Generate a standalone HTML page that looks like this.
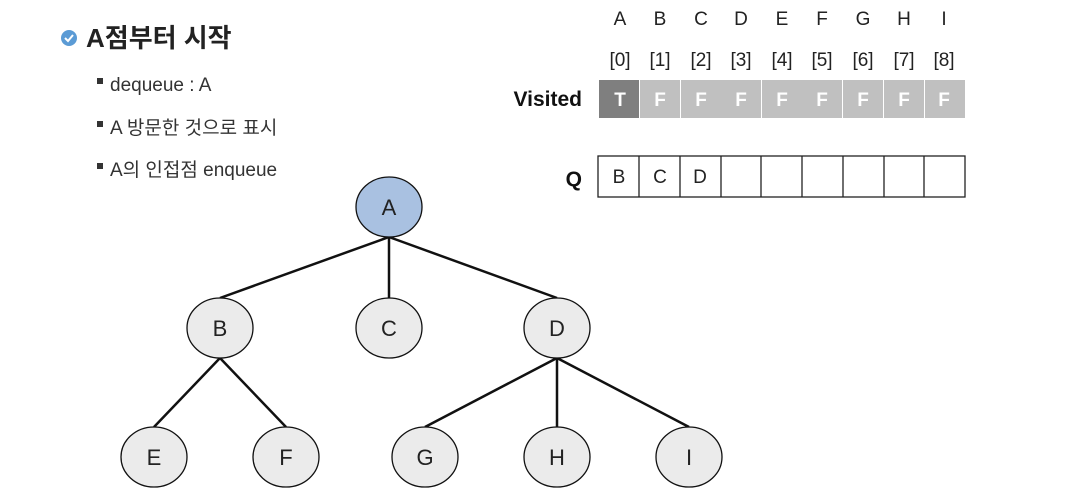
<!DOCTYPE html>
<html><head><meta charset="utf-8"><style>
body{margin:0;width:1070px;height:498px;background:#fff;overflow:hidden}
svg{display:block}
text{font-family:"Liberation Sans","Noto Sans CJK KR",sans-serif}
</style></head><body>
<svg width="1070" height="498" viewBox="0 0 1070 498">
<circle cx="69" cy="38" r="8" fill="#5b9bd5"/>
<path d="M65 38 l3 3 l5 -6" stroke="#fff" stroke-width="2" fill="none"/>
<text x="86" y="47" font-size="26" font-weight="bold" fill="#222">A점부터 시작</text>
<g font-size="19" fill="#333">
<rect x="97" y="78" width="6" height="6" fill="#333"/><text x="110" y="91">dequeue : A</text>
<rect x="97" y="121" width="6" height="6" fill="#333"/><text x="110" y="134">A 방문한 것으로 표시</text>
<rect x="97" y="163" width="6" height="6" fill="#333"/><text x="110" y="176">A의 인접점 enqueue</text>
</g>
<g font-size="19" fill="#222" text-anchor="middle">
<text x="620" y="25">A</text><text x="660" y="25">B</text><text x="701" y="25">C</text><text x="741" y="25">D</text><text x="782" y="25">E</text><text x="822" y="25">F</text><text x="863" y="25">G</text><text x="904" y="25">H</text><text x="944" y="25">I</text>
<text x="620" y="66">[0]</text><text x="660" y="66">[1]</text><text x="701" y="66">[2]</text><text x="741" y="66">[3]</text><text x="782" y="66">[4]</text><text x="822" y="66">[5]</text><text x="863" y="66">[6]</text><text x="904" y="66">[7]</text><text x="944" y="66">[8]</text>
</g>
<text x="582" y="106" font-size="21" font-weight="bold" text-anchor="end" fill="#111">Visited</text>
<g>
<rect x="599" y="80" width="40" height="38" fill="#7f7f7f"/>
<rect x="640" y="80" width="40" height="38" fill="#c0c0c0"/>
<rect x="681" y="80" width="40" height="38" fill="#c0c0c0"/>
<rect x="721" y="80" width="40" height="38" fill="#c0c0c0"/>
<rect x="762" y="80" width="40" height="38" fill="#c0c0c0"/>
<rect x="802" y="80" width="40" height="38" fill="#c0c0c0"/>
<rect x="843" y="80" width="40" height="38" fill="#c0c0c0"/>
<rect x="884" y="80" width="40" height="38" fill="#c0c0c0"/>
<rect x="925" y="80" width="40" height="38" fill="#c0c0c0"/>
</g>
<g font-size="19" font-weight="bold" fill="#fff" text-anchor="middle">
<text x="620" y="106">T</text><text x="660" y="106">F</text><text x="701" y="106">F</text><text x="741" y="106">F</text><text x="782" y="106">F</text><text x="822" y="106">F</text><text x="863" y="106">F</text><text x="904" y="106">F</text><text x="944" y="106">F</text>
</g>
<text x="582" y="186" font-size="21" font-weight="bold" text-anchor="end" fill="#111">Q</text>
<g fill="#fff" stroke="#222" stroke-width="1.3">
<rect x="598" y="156" width="367" height="41"/>
<path d="M639 156v41M680 156v41M721 156v41M761 156v41M802 156v41M843 156v41M884 156v41M924 156v41"/>
</g>
<g font-size="19" fill="#222" text-anchor="middle">
<text x="619" y="183">B</text><text x="660" y="183">C</text><text x="700" y="183">D</text>
</g>
<g stroke="#111" stroke-width="2.5">
<line x1="389" y1="237" x2="220" y2="298"/><line x1="389" y1="237" x2="389" y2="298"/><line x1="389" y1="237" x2="557" y2="298"/>
<line x1="220" y1="358" x2="154" y2="427"/><line x1="220" y1="358" x2="286" y2="427"/>
<line x1="557" y1="358" x2="425" y2="427"/><line x1="557" y1="358" x2="557" y2="427"/><line x1="557" y1="358" x2="689" y2="427"/>
</g>
<g stroke="#111" stroke-width="1.3" fill="#ebebeb">
<ellipse cx="389" cy="207" rx="33" ry="30" fill="#a9c1e1"/>
<ellipse cx="220" cy="328" rx="33" ry="30"/><ellipse cx="389" cy="328" rx="33" ry="30"/><ellipse cx="557" cy="328" rx="33" ry="30"/>
<ellipse cx="154" cy="457" rx="33" ry="30"/><ellipse cx="286" cy="457" rx="33" ry="30"/><ellipse cx="425" cy="457" rx="33" ry="30"/><ellipse cx="557" cy="457" rx="33" ry="30"/><ellipse cx="689" cy="457" rx="33" ry="30"/>
</g>
<g font-size="22" fill="#222" text-anchor="middle">
<text x="389" y="215">A</text><text x="220" y="336">B</text><text x="389" y="336">C</text><text x="557" y="336">D</text>
<text x="154" y="465">E</text><text x="286" y="465">F</text><text x="425" y="465">G</text><text x="557" y="465">H</text><text x="689" y="465">I</text>
</g>
</svg>
</body></html>
